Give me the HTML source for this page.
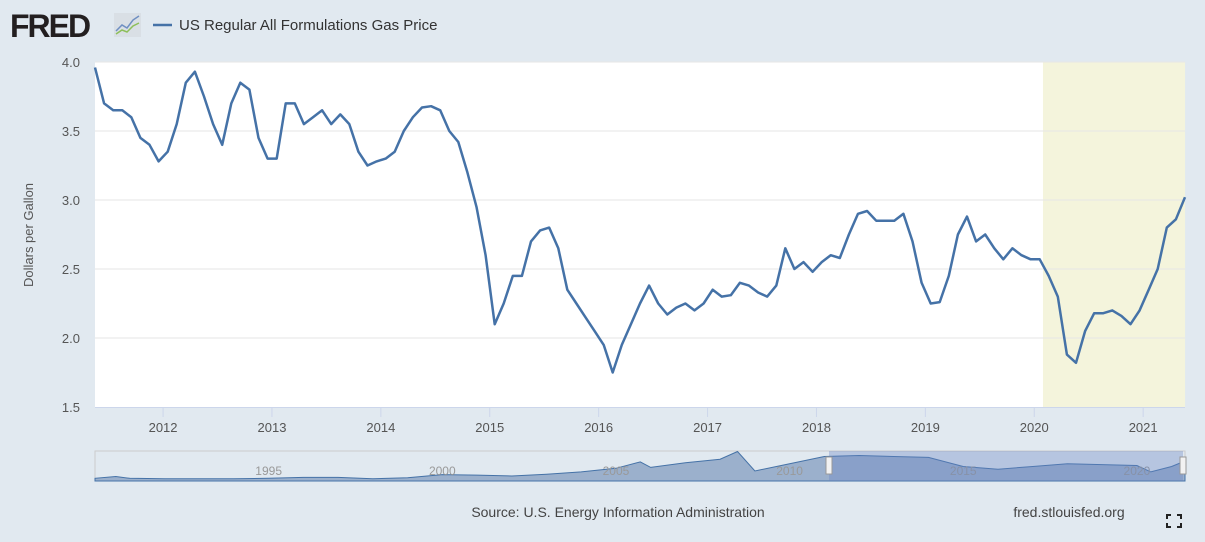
<!DOCTYPE html>
<html><head><meta charset="utf-8"><style>
body{margin:0;background:#e1e9f0;font-family:"Liberation Sans",sans-serif;}
#wrap{position:relative;width:1205px;height:542px;overflow:hidden;}
</style></head><body>
<div id="wrap">
<svg id="svg" width="1205" height="542" xmlns="http://www.w3.org/2000/svg">
<text x="10" y="37" font-size="32" font-weight="bold" fill="#231f20" font-family="Liberation Sans" letter-spacing="-2">FRED</text>
<g>
<rect x="114" y="13" width="27" height="24" fill="#d9dfe5"/>
<polyline points="116,31 122,25 127,28 133,20 139,16" fill="none" stroke="#6f8fc2" stroke-width="1.5"/>
<polyline points="116,34 122,30 127,32 133,26 139,23" fill="none" stroke="#8dbf5a" stroke-width="1.5"/>
</g>
<line x1="153" y1="25" x2="172" y2="25" stroke="#4572a7" stroke-width="2.5"/>
<text x="179" y="30" font-size="15" fill="#333">US Regular All Formulations Gas Price</text>
<rect x="95" y="62" width="1090" height="345" fill="#fff"/>
<g id="plot"></g>
<text transform="translate(33,235) rotate(-90)" text-anchor="middle" font-size="13" fill="#555">Dollars per Gallon</text>
<g id="nav"></g>
<text x="618" y="517" text-anchor="middle" font-size="14" fill="#444">Source: U.S. Energy Information Administration</text>
<text x="1069" y="517" text-anchor="middle" font-size="14" fill="#444">fred.stlouisfed.org</text>
<g stroke="#222" stroke-width="2" fill="none">
<polyline points="1167,519 1167,515 1171,515"/><polyline points="1177,515 1181,515 1181,519"/>
<polyline points="1167,523 1167,527 1171,527"/><polyline points="1177,527 1181,527 1181,523"/>
</g>
</svg>
</div>
<script>
const startYear = 2011.375;
const prices = [3.96,3.70,3.65,3.65,3.60,3.45,3.40,3.28,
3.35,3.55,3.85,3.93,3.75,3.55,3.40,3.70,3.85,3.80,3.45,3.30,
3.30,3.70,3.70,3.55,3.60,3.65,3.55,3.62,3.55,3.35,3.25,3.28,
3.30,3.35,3.50,3.60,3.67,3.68,3.65,3.50,3.42,3.20,2.95,2.60,
2.10,2.25,2.45,2.45,2.70,2.78,2.80,2.65,2.35,2.25,2.15,2.05,
1.95,1.75,1.95,2.10,2.25,2.38,2.25,2.17,2.22,2.25,2.20,2.25,
2.35,2.30,2.31,2.40,2.38,2.33,2.30,2.38,2.65,2.50,2.55,2.48,
2.55,2.60,2.58,2.75,2.90,2.92,2.85,2.85,2.85,2.90,2.70,2.40,
2.25,2.26,2.45,2.75,2.88,2.70,2.75,2.65,2.57,2.65,2.60,2.57,
2.57,2.45,2.30,1.88,1.82,2.05,2.18,2.18,2.20,2.16,2.10,2.20,
2.35,2.50,2.80,2.86,3.02];
const yTicks = [1.5,2.0,2.5,3.0,3.5,4.0];
const xTicks = [2012,2013,2014,2015,2016,2017,2018,2019,2020,2021];
const recession = [2020.08, 2021.385];
const navYears = [1990.0,1990.6,1991,1992,1993,1994,1995,1996,1997,1998,1999,2000,2001,2002,2003,2004,2005,2005.7,2006,2007,2008,2008.5,2009,2010,2011,2012,2013,2014,2015,2016,2017,2018,2019,2020,2020.4,2021,2021.385];
const navVals = [1.1,1.3,1.1,1.05,1.05,1.05,1.1,1.2,1.2,1.05,1.15,1.5,1.45,1.35,1.55,1.8,2.2,2.9,2.3,2.8,3.2,4.05,1.9,2.7,3.5,3.6,3.5,3.4,2.4,2.1,2.4,2.7,2.6,2.5,1.8,2.4,3.0];
const navLabels = [1995,2000,2005,2010,2015,2020];

const NS='http://www.w3.org/2000/svg';
const X0=95,X1=1185,xMin=startYear,xMax=startYear+(1185-95)/108.9;
const x=t=>X0+(t-xMin)/(xMax-xMin)*(X1-X0);
const y=v=>407-(v-1.5)/2.5*345;
function mk(tag,attrs,parent){const e=document.createElementNS(NS,tag);for(const k in attrs)e.setAttribute(k,attrs[k]);parent.appendChild(e);return e;}
const plot=document.getElementById('plot');
const rec=mk('rect',{x:x(recession[0]),y:62,width:x(recession[1])-x(recession[0]),height:345,fill:'#f4f4dc'},plot);


yTicks.forEach(v=>{
 if(v>1.5){const g=mk('line',{x1:95,x2:1185,y1:y(v),y2:y(v),stroke:'#e6e6e6'},plot);
 
 }
 const t=mk('text',{x:80,y:y(v)+5,'text-anchor':'end','font-size':13,fill:'#555'},plot);t.textContent=v.toFixed(1);
 
 
});
mk('line',{x1:95,x2:1185,y1:407.5,y2:407.5,stroke:'#ccd6eb'},plot);
xTicks.forEach(yr=>{
 const l=mk('line',{x1:x(yr),x2:x(yr),y1:407,y2:417,stroke:'#ccd6eb'},plot);
 
 
 const t=mk('text',{x:x(yr),y:432,'text-anchor':'middle','font-size':13,fill:'#555'},plot);t.textContent=yr;
 
 
});
const step=(xMax-xMin)/(prices.length-1);
const pts=prices.map((p,i)=>x(startYear+i*step).toFixed(1)+','+y(p).toFixed(1)).join(' ');
const line=mk('polyline',{points:pts,fill:'none',stroke:'#4572a7','stroke-width':2.5,'stroke-linejoin':'round'},plot);



// navigator
const nav=document.getElementById('nav');
const nx=t=>95+(t-1990.0)*(1090/31.385);
const ny=v=>481-(v-0.8)/3.3*30;
const bg=mk('rect',{x:95,y:451,width:1090,height:30,fill:'#e1e9f0',stroke:'#ccc'},nav);


let d='M'+nx(navYears[0])+',481 '+navYears.map((t,i)=>'L'+nx(t).toFixed(1)+','+ny(navVals[i]).toFixed(1)).join(' ')+' L'+nx(navYears[navYears.length-1])+',481Z';
const area=mk('path',{d:d,fill:'#9bb0cc',stroke:'#4572a7','stroke-width':1},nav);


navLabels.forEach(yr=>{const t=mk('text',{x:nx(yr),y:475,'text-anchor':'middle','font-size':12,fill:'#999'},nav);t.textContent=yr;
 
 });
const sel=mk('rect',{x:829,y:451,width:354,height:30,fill:'rgba(102,133,194,0.35)'},nav);


[829,1183].forEach(hx=>{const h=mk('rect',{x:hx-3,y:457,width:6,height:17,fill:'#f2f2f2',stroke:'#999'},nav);
 
 });
</script>
</body></html>
